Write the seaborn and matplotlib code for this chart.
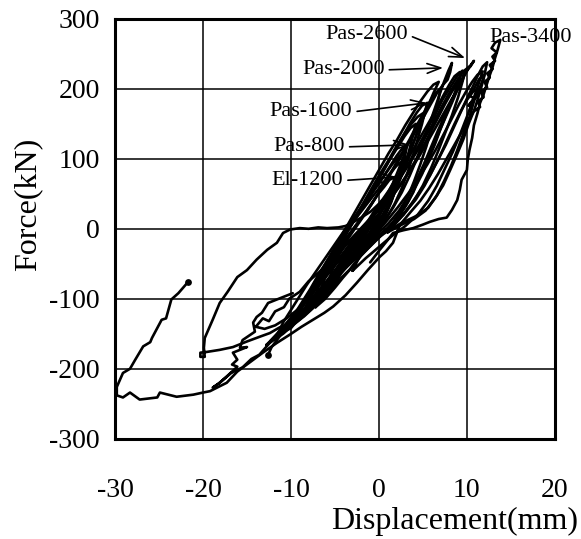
import numpy as np
import pandas as pd
import seaborn as sns
import matplotlib
matplotlib.use('Agg')
import matplotlib.pyplot as plt

# axis settings
x_ticks = [-30, -20, -10, 0, 10, 20]
y_ticks = [-300, -200, -100, 0, 100, 200, 300]

# hysteresis traces, (displacement mm, force kN)
el1200 = [(-5.8, -88), (-4.9, -76), (-4.3, -64), (-3.4, -50), (-2.7, -38), (-1.9, -24), (-1.0, -12),
          (-0.1, 2), (0.6, 16), (1.0, 30), (1.3, 44), (1.5, 58), (1.8, 74),
          (1.2, 70), (0.6, 60), (-0.2, 48), (-0.9, 34), (-1.7, 20), (-2.5, 6), (-3.3, -8), (-3.9, -22),
          (-4.5, -36), (-5.0, -50), (-5.4, -62), (-5.7, -76), (-5.8, -88)]

pas800 = [(-8.6, -120), (-7.6, -108), (-6.9, -96), (-5.9, -82), (-5.0, -68), (-4.1, -52), (-3.0, -36),
          (-1.9, -20), (-0.8, -6), (0.3, 10), (1.0, 28), (1.6, 46), (2.1, 64), (2.5, 82), (2.9, 100),
          (3.2, 119), (2.6, 114), (2.0, 104), (1.3, 90), (0.5, 74), (-0.4, 58), (-1.3, 40), (-2.3, 22),
          (-3.2, 4), (-4.0, -14), (-4.9, -32), (-5.7, -50), (-6.5, -68), (-7.3, -86), (-8.0, -102),
          (-8.6, -120)]

pas1600 = [(-10.3, -140), (-9.1, -128), (-8.2, -116), (-7.0, -102), (-5.9, -86), (-4.9, -70), (-3.8, -52),
           (-2.6, -34), (-1.4, -18), (-0.2, -2), (0.9, 16), (1.8, 36), (2.6, 58), (3.3, 82), (3.9, 106),
           (4.4, 128), (4.9, 150), (5.2, 166), (5.5, 180), (4.9, 176), (4.3, 166), (3.6, 152), (2.8, 134),
           (1.9, 114), (1.0, 94), (0.0, 72), (-1.0, 50), (-2.0, 30), (-3.0, 10), (-4.0, -10), (-5.0, -30),
           (-5.9, -50), (-6.8, -70), (-7.7, -90), (-8.6, -108), (-9.5, -124), (-10.3, -140)]

pas2000 = [(-11.3, -152), (-10.1, -140), (-9.2, -128), (-8.0, -112), (-6.9, -96), (-5.8, -78), (-4.6, -60),
           (-3.4, -40), (-2.1, -22), (-0.8, -6), (0.5, 10), (1.6, 30), (2.6, 52), (3.5, 76), (4.3, 100),
           (5.0, 124), (5.7, 148), (6.3, 170), (6.9, 192), (7.4, 210), (7.9, 226), (8.3, 237),
           (8.1, 224), (7.8, 213), (7.3, 206), (6.6, 194), (5.8, 176), (5.0, 158), (4.1, 138), (3.1, 116),
           (2.1, 94), (1.0, 72), (-0.1, 50), (-1.2, 28), (-2.3, 8), (-3.4, -12), (-4.5, -32), (-5.6, -52),
           (-6.7, -72), (-7.8, -92), (-8.9, -112), (-9.9, -130), (-10.7, -142), (-11.3, -152)]

pas2600 = [(-12.3, -160), (-10.8, -146), (-9.6, -132), (-8.4, -118), (-7.1, -100), (-5.8, -82), (-4.4, -62),
           (-3.0, -42), (-1.6, -24), (-0.2, -8), (1.1, 8), (2.3, 26), (3.3, 46), (4.2, 68), (5.1, 92),
           (5.9, 116), (6.7, 140), (7.5, 162), (8.3, 184), (9.0, 202), (9.6, 218), (10.2, 230), (10.8, 240),
           (10.4, 232), (9.8, 224), (9.5, 212), (9.0, 200), (8.3, 186), (7.5, 168), (6.6, 148), (5.6, 126),
           (4.6, 104), (3.5, 82), (2.3, 60), (1.1, 40), (-0.1, 20), (-1.3, 2), (-2.6, -16), (-3.9, -36),
           (-5.2, -56), (-6.5, -76), (-7.8, -96), (-9.0, -114), (-10.2, -130), (-11.3, -146), (-12.3, -160)]

mid_a = [(-10.9, -146), (-9.9, -134), (-8.9, -120), (-7.9, -106), (-6.9, -90), (-5.8, -72), (-4.7, -54),
         (-3.5, -36), (-2.3, -18), (-1.1, 0), (0.0, 18), (0.9, 38), (1.8, 60), (2.6, 84), (3.4, 108),
         (4.2, 132), (4.9, 154), (5.6, 176), (6.2, 194), (6.8, 210), (6.2, 206), (5.5, 196), (4.7, 182),
         (3.9, 166), (3.0, 148), (2.1, 128), (1.1, 108), (0.1, 86), (-0.9, 64), (-1.9, 42), (-2.9, 20),
         (-3.9, -2), (-4.9, -24), (-5.9, -46), (-6.9, -68), (-7.9, -90), (-8.9, -110), (-9.9, -128),
         (-10.9, -146)]

mid_b = [(-9.4, -132), (-8.4, -120), (-7.3, -106), (-6.2, -90), (-5.2, -74), (-4.1, -56), (-3.0, -38),
         (-1.8, -20), (-0.6, -2), (0.5, 18), (1.4, 40), (2.2, 64), (2.9, 88), (3.4, 110), (3.8, 130),
         (4.2, 150), (3.6, 144), (2.9, 132), (2.1, 116), (1.2, 98), (0.3, 78), (-0.6, 58), (-1.5, 38),
         (-2.5, 18), (-3.5, -2), (-4.5, -22), (-5.5, -42), (-6.5, -62), (-7.4, -82), (-8.3, -102),
         (-9.0, -118), (-9.4, -132)]

small_c = [(-4.2, -60), (-3.3, -48), (-2.6, -36), (-1.9, -22), (-1.2, -10), (-0.6, 4), (0.0, 18), (0.4, 30),
           (0.8, 45), (0.3, 40), (-0.3, 30), (-0.9, 18), (-1.6, 4), (-2.3, -10), (-2.9, -24), (-3.5, -38),
           (-4.1, -50), (-4.2, -60)]

right_d = [(-1.0, -20), (0.8, -5), (2.5, 8), (4.2, 18), (5.6, 30), (6.6, 48), (7.4, 68), (8.2, 90),
           (8.9, 112), (9.6, 136), (10.3, 160), (10.8, 182), (11.3, 200), (10.7, 196), (10.0, 184),
           (9.3, 168), (8.6, 150), (7.8, 128), (7.0, 106), (6.1, 84), (5.2, 62), (4.2, 42), (3.0, 24),
           (1.6, 8), (0.2, -8), (-1.0, -20)]

right_r2 = [(-3.0, -60), (-1.5, -42), (0.0, -26), (1.5, -10), (3.0, 4), (4.4, 20), (5.6, 40), (6.6, 62),
            (7.5, 86), (8.4, 110), (9.2, 134), (10.0, 160), (10.7, 184), (11.3, 206), (11.8, 225),
            (11.2, 220), (10.6, 210), (9.9, 196), (9.1, 178), (8.3, 158), (7.4, 136), (6.5, 114),
            (5.5, 92), (4.4, 70), (3.3, 50), (2.1, 30), (0.8, 10), (-0.6, -10), (-1.9, -32), (-3.0, -60)]

right_r3 = [(1.0, -5), (2.6, 6), (4.0, 14), (5.3, 26), (6.4, 44), (7.3, 62), (8.1, 84), (8.8, 104),
            (9.6, 128), (10.2, 150), (10.9, 172), (11.4, 192), (11.9, 214), (12.3, 238), (11.8, 232),
            (11.2, 218), (10.7, 204), (10.0, 186), (9.2, 164), (8.4, 142), (7.6, 120), (6.7, 98),
            (5.8, 76), (4.8, 56), (3.7, 36), (2.5, 16), (1.0, -5)]

right_r4 = [(10.2, 176), (11.0, 190), (11.6, 206), (12.0, 220), (11.4, 214), (10.8, 200), (10.3, 190),
            (10.9, 186), (11.5, 196), (10.6, 182), (10.2, 176)]

right_r5 = [(-6.0, -85), (-4.6, -66), (-3.1, -48), (-1.6, -30), (-0.1, -12), (1.4, 4), (2.8, 20), (4.0, 40),
            (5.0, 62), (5.9, 86), (6.7, 110), (7.5, 136), (8.3, 162), (9.0, 188), (9.6, 215), (9.0, 210),
            (8.3, 196), (7.5, 178), (6.6, 156), (5.7, 134), (4.8, 112), (3.8, 90), (2.7, 68), (1.5, 46),
            (0.3, 26), (-1.0, 6), (-2.4, -16), (-3.8, -38), (-5.0, -62), (-6.0, -85)]

wide_h1 = [(-12.8, -166), (-11.6, -156), (-10.9, -150), (-9.8, -138), (-9.0, -130), (-7.8, -116),
           (-7.0, -104), (-5.6, -90), (-4.6, -74), (-3.3, -58), (-2.2, -40), (-0.9, -24), (0.2, -10),
           (1.3, 4), (2.4, 20), (3.3, 38), (4.0, 56), (4.9, 78), (5.6, 98), (6.4, 122), (7.1, 146),
           (7.8, 168), (8.5, 190), (9.0, 208), (9.5, 226), (9.0, 220), (8.4, 208), (7.9, 198), (7.2, 184),
           (6.6, 168), (5.8, 150), (5.0, 130), (4.1, 110), (3.2, 90), (2.2, 70), (1.2, 50), (0.0, 30),
           (-1.2, 12), (-2.4, -4), (-3.6, -20), (-4.6, -38), (-5.8, -58), (-6.9, -78), (-8.1, -98),
           (-9.3, -118), (-10.5, -136), (-11.7, -152), (-12.8, -166)]

loop_h2 = [(-7.2, -112), (-6.1, -100), (-5.0, -84), (-4.1, -70), (-3.0, -54), (-2.0, -38), (-0.8, -22),
           (0.4, -8), (1.5, 8), (2.5, 26), (3.3, 46), (4.0, 68), (4.7, 92), (5.4, 118), (6.0, 144),
           (6.5, 168), (7.0, 200), (6.4, 194), (5.8, 182), (5.1, 166), (4.3, 148), (3.5, 128), (2.6, 108),
           (1.7, 88), (0.7, 66), (-0.4, 44), (-1.5, 24), (-2.7, 4), (-3.9, -16), (-4.9, -38), (-5.8, -60),
           (-6.5, -82), (-7.0, -98), (-7.2, -112)]

loop_h3 = [(-10.2, -138), (-9.0, -126), (-8.1, -112), (-7.0, -98), (-6.0, -82), (-4.9, -66), (-3.8, -48),
           (-2.6, -32), (-1.3, -16), (-0.2, 0), (0.7, 18), (1.4, 38), (1.9, 58), (2.3, 76), (2.6, 96),
           (2.0, 90), (1.3, 80), (0.4, 64), (-0.6, 48), (-1.7, 30), (-2.8, 12), (-3.9, -6), (-4.9, -26),
           (-5.9, -46), (-6.9, -66), (-7.8, -86), (-8.7, -104), (-9.5, -120), (-10.2, -138)]

loop_h4 = [(-11.9, -158), (-10.7, -146), (-10.0, -142), (-9.1, -128), (-8.0, -114), (-7.3, -108),
           (-6.4, -92), (-5.2, -76), (-4.3, -62), (-3.0, -46), (-1.8, -30), (-0.4, -14), (0.9, 0),
           (2.0, 14), (3.0, 32), (3.9, 52), (4.6, 74), (5.4, 96), (6.2, 118), (6.9, 140), (7.6, 160),
           (8.3, 180), (8.9, 198), (9.5, 214), (10.3, 232), (9.7, 226), (9.1, 216), (8.6, 206), (8.0, 194),
           (7.2, 176), (6.4, 156), (5.5, 136), (4.6, 116), (3.6, 96), (2.6, 76), (1.5, 56), (0.4, 36),
           (-0.8, 16), (-2.0, -2), (-3.2, -20), (-4.4, -40), (-5.5, -58), (-6.7, -78), (-7.9, -98),
           (-9.0, -116), (-10.2, -134), (-11.2, -148), (-11.9, -158)]

loop_h5 = [(-8.0, -118), (-7.0, -104), (-6.1, -92), (-5.3, -78), (-4.5, -64), (-3.6, -48), (-2.6, -32),
           (-1.6, -14), (-0.6, 2), (0.4, 20), (1.3, 40), (2.1, 62), (2.9, 86), (3.6, 110), (4.2, 132),
           (4.6, 150), (5.0, 165), (4.4, 160), (3.7, 150), (2.9, 136), (2.0, 118), (1.1, 98), (0.1, 78),
           (-0.9, 56), (-1.9, 34), (-2.9, 12), (-3.9, -10), (-4.9, -32), (-5.8, -54), (-6.6, -76),
           (-7.3, -96), (-8.0, -118)]

loop_h6 = [(-5.0, -72), (-4.2, -60), (-3.6, -48), (-2.9, -34), (-2.2, -20), (-1.4, -6), (-0.6, 18),
           (-1.3, 10), (-2.1, -2), (-2.9, -16), (-3.7, -32), (-4.4, -48), (-4.9, -60), (-5.0, -72)]

loop_h7 = [(-11.5, -150), (-10.4, -136), (-9.3, -120), (-8.3, -104), (-7.2, -86), (-6.1, -68), (-5.0, -50),
           (-3.8, -32), (-2.6, -14), (-1.4, 4), (-0.3, 24), (0.8, 46), (1.7, 68), (2.4, 90), (3.0, 110),
           (2.3, 104), (1.5, 92), (0.6, 76), (-0.4, 58), (-1.5, 40), (-2.6, 20), (-3.8, 0), (-4.9, -20),
           (-6.0, -40), (-7.1, -60), (-8.2, -80), (-9.2, -100), (-10.1, -118), (-10.9, -134), (-11.5, -150)]

zig_e = [(-14.0, -140), (-13.2, -128), (-12.5, -132), (-11.8, -118), (-10.8, -112), (-10.2, -100),
         (-9.0, -90), (-8.0, -75), (-6.8, -62), (-5.5, -45), (-4.3, -30), (-3.0, -15), (-1.8, 0),
         (-0.6, 18), (0.5, 35), (1.5, 55), (2.5, 80), (3.3, 100), (2.6, 85), (1.8, 60), (0.8, 35),
         (-0.5, 10), (-1.8, -12), (-3.0, -30), (-4.2, -50), (-5.5, -70), (-6.8, -88), (-8.0, -102),
         (-9.2, -115), (-10.5, -128), (-11.8, -138), (-13.0, -143), (-14.0, -140)]

zig_f = [(-9.8, -92), (-11.0, -98), (-12.6, -106), (-13.3, -120), (-13.9, -126), (-14.3, -134),
         (-14.1, -147), (-15.5, -159), (-15.8, -170), (-15.0, -169), (-16.6, -177), (-16.1, -187),
         (-16.7, -194), (-16.1, -197), (-17.3, -211), (-18.1, -220), (-18.9, -227), (-18.3, -222),
         (-16.8, -206), (-15.5, -198), (-14.5, -186), (-13.6, -180), (-12.9, -170), (-12.2, -160),
         (-11.3, -150), (-10.4, -140), (-9.4, -128), (-8.4, -114)]

tail_g = [(-5.8, -92), (-7.2, -110), (-8.5, -125), (-9.6, -135), (-10.9, -147), (-11.6, -159),
          (-12.2, -169), (-12.6, -180)]

loop_b = [(-6.0, -82), (-7.2, -96), (-8.0, -108), (-9.4, -124), (-10.5, -137), (-11.3, -141),
          (-12.4, -149), (-13.5, -154), (-15.0, -161), (-16.6, -169), (-18.1, -173), (-19.6, -176),
          (-20.3, -177), (-20.3, -183), (-19.8, -183), (-19.9, -170), (-19.8, -156), (-18.9, -130),
          (-18.1, -106), (-17.2, -90), (-16.1, -69), (-15.0, -59), (-13.9, -44), (-12.7, -30),
          (-11.6, -20), (-10.9, -6), (-10.1, -1), (-9.0, 1), (-8.0, 0), (-6.9, 2), (-5.9, 1),
          (-4.6, 2), (-3.8, 4), (-3.0, 9), (-2.0, 16), (-0.9, 25), (0.2, 38), (1.2, 56), (2.2, 76),
          (3.2, 98), (4.3, 122), (5.4, 146), (6.4, 168), (7.3, 190), (8.0, 206), (8.6, 218), (9.2, 224)]

pas3400 = [(-1.0, -48), (0.1, -30), (1.0, -16), (1.6, -6), (2.8, -2), (3.9, 1), (5.0, 6), (5.8, 10),
           (6.8, 14), (7.7, 16), (8.3, 27), (8.9, 41), (9.2, 56), (9.4, 70), (10.0, 84), (10.1, 99),
           (10.3, 113), (10.6, 130), (10.8, 148), (11.2, 165), (11.5, 180), (11.9, 192), (12.2, 204),
           (12.5, 216), (12.9, 230), (13.2, 244), (13.5, 256), (13.8, 270),
           (13.2, 266), (12.8, 258), (13.4, 252), (12.9, 246), (13.2, 240), (12.6, 234), (12.9, 228),
           (12.3, 222), (12.6, 216), (12.0, 210), (12.3, 202), (11.6, 196), (11.9, 188), (11.2, 182),
           (11.5, 174), (10.8, 168), (10.1, 154), (9.3, 136), (8.5, 118), (7.6, 98), (6.7, 78),
           (5.7, 58), (4.7, 40), (3.6, 24), (2.4, 6), (1.6, -20), (0.8, -32), (0.1, -40), (-1.2, -58),
           (-2.5, -77), (-3.8, -95), (-5.2, -111), (-6.2, -120), (-7.5, -130), (-8.8, -140),
           (-10.1, -151), (-11.6, -163), (-13.2, -177), (-14.7, -191), (-16.1, -204), (-17.3, -220),
           (-18.1, -225), (-19.2, -232), (-20.0, -234), (-21.1, -237), (-23.0, -240), (-24.9, -234),
           (-25.2, -241), (-27.2, -244), (-28.3, -234), (-29.1, -241), (-29.8, -238), (-29.8, -226),
           (-29.1, -206), (-28.3, -200), (-27.7, -187), (-26.8, -168), (-26.0, -162), (-25.8, -156),
           (-24.7, -130), (-24.2, -128), (-23.6, -101), (-22.8, -92), (-21.7, -76)]

curves = {
    'El-1200': el1200, 'Pas-800': pas800, 'Pas-1600': pas1600, 'Pas-2000': pas2000,
    'Pas-2600': pas2600, 'mid_a': mid_a, 'mid_b': mid_b, 'small_c': small_c, 'right_d': right_d,
    'right_r2': right_r2, 'right_r3': right_r3, 'right_r4': right_r4, 'right_r5': right_r5,
    'wide_h1': wide_h1, 'loop_h2': loop_h2, 'loop_h3': loop_h3, 'loop_h4': loop_h4,
    'loop_h5': loop_h5, 'loop_h6': loop_h6, 'loop_h7': loop_h7,
    'zig_e': zig_e, 'zig_f': zig_f, 'tail_g': tail_g, 'loop_b': loop_b, 'Pas-3400': pas3400,
}

# end blobs of two traces
blob_x = [-21.7, -12.6]
blob_y = [-76, -180]

# annotation labels: text position (left, centre) and arrow tip
labels = ['Pas-2600', 'Pas-2000', 'Pas-1600', 'Pas-800', 'El-1200']
label_pos = [(-6.1, 277), (-8.75, 227), (-12.4, 167), (-12.0, 117), (-12.2, 69)]
arrow_tip = [(9.8, 244), (7.3, 230), (5.45, 180), (3.5, 120), (2.0, 74)]

rows = []
for name, pts in curves.items():
    for i, (x, y) in enumerate(pts):
        rows.append({'curve': name, 'order': i, 'x': x, 'y': y})
df = pd.DataFrame(rows)

sns.set_theme(style='white')
plt.rcParams['font.family'] = ['Liberation Serif', 'DejaVu Serif']
plt.rcParams['axes.unicode_minus'] = False
plt.rcParams['text.color'] = 'black'

fig = plt.figure(figsize=(5.81, 5.39), dpi=100)
ax = fig.add_axes([0.198, 0.186, 0.757, 0.779])

ax.grid(True, color='black', lw=1.1)
ax.set_axisbelow(True)

sns.lineplot(data=df, x='x', y='y', units='curve', estimator=None, sort=False,
             color='black', lw=1.9, ax=ax, legend=False)
sns.scatterplot(x=blob_x, y=blob_y, color='black', s=24, marker='o', ax=ax, linewidth=0)

ax.set_xlim(-30, 20)
ax.set_ylim(-300, 300)
ax.set_xticks(x_ticks)
ax.set_yticks(y_ticks)
ax.tick_params(axis='x', direction='in', length=5, width=1, pad=28, labelsize=20, colors='black')
ax.tick_params(axis='y', direction='in', length=5, width=1, pad=11, labelsize=20, colors='black')
for s in ax.spines.values():
    s.set_color('black')
    s.set_linewidth(2.2)

ax.set_xlabel('Displacement(mm)', fontsize=23, color='black', ha='right', va='center')
ax.xaxis.set_label_coords(1.052, -0.198)
ax.set_ylabel('Force(kN)', fontsize=23, color='black', va='center', ha='center')
ax.yaxis.set_label_coords(-0.198, 0.557)

for txt, (tx, ty), (ax_, ay) in zip(labels, label_pos, arrow_tip):
    ax.annotate(txt, xy=(ax_, ay), xytext=(tx, ty), ha='left', va='center', fontsize=16, color='black',
                arrowprops=dict(arrowstyle='->,head_length=0.7,head_width=0.25', color='black',
                                lw=1.2, shrinkA=1, shrinkB=0, relpos=(1.0, 0.5), mutation_scale=14))
ax.text(12.6, 274, 'Pas-3400', ha='left', va='center', fontsize=16, color='black')

fig.savefig('out.png', dpi=100, facecolor='white')
